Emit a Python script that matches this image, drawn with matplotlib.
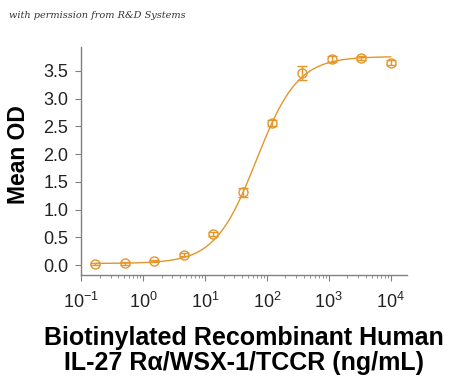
import numpy as np
import matplotlib
matplotlib.use("Agg")
import matplotlib.pyplot as plt
from matplotlib.ticker import LogLocator, FixedLocator, NullFormatter

# Data
conc = [0.169, 0.508, 1.52, 4.57, 13.7, 41.2, 123, 370, 1111, 3333, 10000]
mean_od = [0.02, 0.03, 0.07, 0.19, 0.56, 1.31, 2.56, 3.46, 3.72, 3.73, 3.65]
err = [0.02, 0.02, 0.02, 0.02, 0.03, 0.08, 0.06, 0.13, 0.05, 0.04, 0.04]
# 4PL fit parameters estimated from the curve
fit_bottom, fit_top, fit_ec50, fit_hill = 0.03, 3.76, 68.0, 1.3
y_ticks = [0.0, 0.5, 1.0, 1.5, 2.0, 2.5, 3.0, 3.5]
x_ticks = [0.1, 1, 10, 100, 1000, 10000]
x_ticklabels = [r"$\mathregular{10^{-1}}$", r"$\mathregular{10^{0}}$", r"$\mathregular{10^{1}}$",
                r"$\mathregular{10^{2}}$", r"$\mathregular{10^{3}}$", r"$\mathregular{10^{4}}$"]

color = "#E3962B"
plt.rcParams['font.family'] = ['Liberation Sans', 'DejaVu Sans']

fig = plt.figure(figsize=(4.5, 3.8), dpi=100)
ax = fig.add_axes([0.18, 0.276, 0.724, 0.6])

xs = np.logspace(np.log10(conc[0]), np.log10(conc[-1]), 300)
ys = fit_bottom + (fit_top - fit_bottom) / (1 + (fit_ec50 / xs) ** fit_hill)
ax.plot(xs, ys, color=color, lw=1.0)
ax.errorbar(conc, mean_od, yerr=err, fmt='o', mfc='none', mec=color, ms=6.5, mew=1.0,
            ecolor=color, elinewidth=1.0, capsize=3.5, capthick=1.0)

ax.set_xscale('log')
ax.set_xlim(10 ** -1.0, 10 ** 4.26)
ax.set_ylim(-0.18, 3.93)
ax.xaxis.set_major_locator(FixedLocator(x_ticks))
ax.set_xticklabels(x_ticklabels)
ax.xaxis.set_minor_locator(LogLocator(base=10, subs=np.arange(2, 10) * 1.0, numticks=20))
ax.xaxis.set_minor_formatter(NullFormatter())
ax.set_yticks(y_ticks)
ax.set_yticklabels([f"{v:.1f}" for v in y_ticks])

for s in ['top', 'right']:
    ax.spines[s].set_visible(False)
for s in ['left', 'bottom']:
    ax.spines[s].set_color('#808080')
    ax.spines[s].set_linewidth(1.0)
ax.tick_params(axis='both', which='major', direction='out', color='#808080', length=4,
               labelsize=13, pad=5, labelcolor='#222222')
ax.tick_params(axis='x', which='minor', direction='out', color='#808080', length=2.5)
ax.tick_params(axis='x', which='major', pad=8)

ax.set_ylabel("Mean OD", fontsize=16.5, fontweight='bold')
ax.yaxis.set_label_coords(-0.193, 0.53, transform=ax.transAxes)
ax.yaxis.label.set_va('center')
ax.yaxis.label.set_ha('center')
ax.set_xlabel("Biotinylated Recombinant Human\nIL-27 R\u03b1/WSX-1/TCCR (ng/mL)",
              fontsize=18, fontweight='bold', linespacing=1.05)
ax.xaxis.set_label_coords(0.5, -0.222, transform=ax.transAxes)
ax.xaxis.label.set_va('top')

fig.text(0.02, 0.96, "with permission from R&D Systems", fontsize=7, style='italic',
         family='DejaVu Serif', color='#333333', va='center')

fig.savefig("out.png", dpi=100, facecolor='white')
